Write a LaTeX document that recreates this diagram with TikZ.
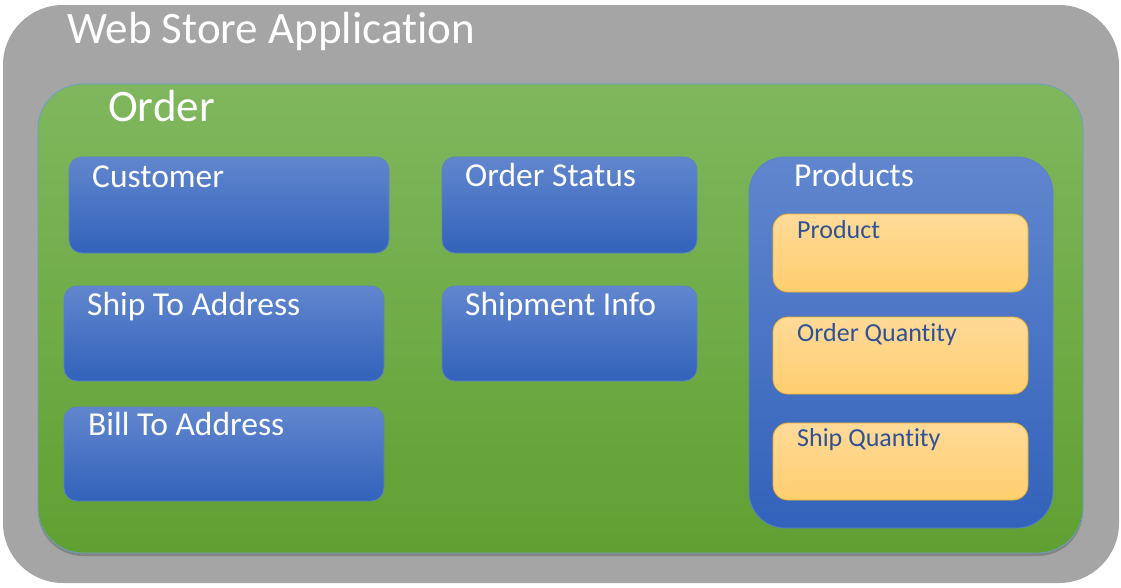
\documentclass[tikz,border=0pt]{standalone}
\usepackage{fontspec}
\setmainfont{Carlito}[RawFeature={-liga;-clig;-calt;-dlig}]
\usetikzlibrary{shadows}
\definecolor{outergray}{HTML}{A5A5A5}
\definecolor{greentop}{HTML}{80B75E}
\definecolor{greenbot}{HTML}{60A032}
\definecolor{greenline}{HTML}{6A9FC8}
\definecolor{bluetop}{HTML}{6186CE}
\definecolor{bluemid}{HTML}{4271C8}
\definecolor{bluebot}{HTML}{3262BA}
\definecolor{blueline}{HTML}{5B82C8}
\definecolor{orgtop}{HTML}{FFDA98}
\definecolor{orgbot}{HTML}{FFCE6E}
\definecolor{orgline}{HTML}{EDB22E}
\definecolor{orgtext}{HTML}{2F5198}
\tikzset{
  box/.style={inner sep=0pt, outer sep=0pt, anchor=north west},
  outerbox/.style={box, fill=outergray, rounded corners=60pt},
  greenbox/.style={box, top color=greentop, bottom color=greenbot, draw=greenline, line width=0.8pt, rounded corners=45pt,
    drop shadow={shadow xshift=0pt, shadow yshift=-3pt, opacity=0.2, fill=black}},
  bluebox/.style={box, top color=bluetop, middle color=bluemid, bottom color=bluebot, draw=blueline, line width=0.8pt, rounded corners=13pt},
  prodbox/.style={box, top color=bluetop, middle color=bluemid, bottom color=bluebot, draw=blueline, line width=0.8pt, rounded corners=36pt},
  orgbox/.style={box, top color=orgtop, bottom color=orgbot, draw=orgline, line width=0.8pt, rounded corners=15pt},
  bigtxt/.style={anchor=base west, inner sep=0pt, text=white, font=\fontsize{45}{54}\selectfont},
  boxtxt/.style={anchor=base west, inner sep=0pt, text=white, font=\fontsize{33.5}{40}\selectfont},
  orgtxt/.style={anchor=base west, inner sep=0pt, text=orgtext, font=\fontsize{26}{31}\selectfont},
}
\begin{document}
\begin{tikzpicture}[x=1pt,y=-1pt]
\useasboundingbox (0,0) rectangle (1121,587);
\node[outerbox, minimum width=1116pt, minimum height=578pt] (app) at (3,5) {};
\node[bigtxt] (appL) at (67,43) {Web Store Application};
\node[greenbox, minimum width=1045pt, minimum height=469pt] (order) at (38,84) {};
\node[bigtxt] (orderL) at (108,121) {Order};

\node[bluebox, minimum width=320pt, minimum height=96pt] (cust) at (69,157) {};
\node[boxtxt] (custL) at (92,187) {Customer};
\node[bluebox, minimum width=320pt, minimum height=95pt] (ship) at (64,286) {};
\node[boxtxt] (shipL) at (87,315) {Ship To Address};
\node[bluebox, minimum width=320pt, minimum height=94pt] (bill) at (64,407) {};
\node[boxtxt] (billL) at (88,435) {Bill To Address};

\node[bluebox, minimum width=255pt, minimum height=96pt] (status) at (442,157) {};
\node[boxtxt] (statusL) at (465,186) {Order Status};
\node[bluebox, minimum width=255pt, minimum height=95pt] (shipinfo) at (442,286) {};
\node[boxtxt] (shipinfoL) at (465,315) {Shipment Info};

\node[prodbox, minimum width=304pt, minimum height=371pt] (prods) at (749,157) {};
\node[boxtxt] (prodsL) at (794,186) {Products};
\node[orgbox, minimum width=255pt, minimum height=78pt] (prod) at (773,214) {};
\node[orgtxt] (prodL) at (797,238) {Product};
\node[orgbox, minimum width=255pt, minimum height=77pt] (oq) at (773,317) {};
\node[orgtxt] (oqL) at (797,341) {Order Quantity};
\node[orgbox, minimum width=255pt, minimum height=77pt] (sq) at (773,423) {};
\node[orgtxt] (sqL) at (797,446) {Ship Quantity};
\end{tikzpicture}
\end{document}
